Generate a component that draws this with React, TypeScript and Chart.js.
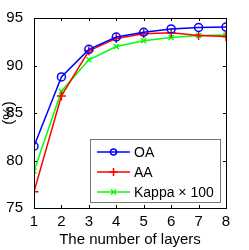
import React, { useEffect, useRef } from "react";
import { Chart, registerables } from "chart.js";

Chart.register(...registerables);

const layers = [1, 2, 3, 4, 5, 6, 7, 8];
const oa = [81.5, 88.8, 91.7, 93.0, 93.5, 93.85, 94.0, 94.05];
const aa = [76.7, 86.8, 91.55, 92.85, 93.35, 93.45, 93.15, 93.05];
const kappa = [78.9, 87.3, 90.6, 92.0, 92.6, 92.95, 93.15, 93.2];
const yTicks = [75, 80, 85, 90, 95];
const seriesLabels = ["OA", "AA", "Kappa \u00d7 100"];

const FONT = "'Liberation Sans', Arial, Helvetica, sans-serif";

const boxPlugin = {
  id: "matlabBox",
  afterDatasetsDraw(chart: any) {
    const { ctx, chartArea: a, scales } = chart;
    ctx.save();
    ctx.strokeStyle = "#000";
    ctx.lineWidth = 1;
    const tl = 3;
    ctx.beginPath();
    layers.forEach((v) => {
      const x = Math.round(scales.x.getPixelForValue(v)) + 0.5;
      ctx.moveTo(x, a.bottom);
      ctx.lineTo(x, a.bottom - tl);
      ctx.moveTo(x, a.top);
      ctx.lineTo(x, a.top + tl);
    });
    yTicks.forEach((v) => {
      const y = Math.round(scales.y.getPixelForValue(v)) + 0.5;
      ctx.moveTo(a.left, y);
      ctx.lineTo(a.left + tl, y);
      ctx.moveTo(a.right, y);
      ctx.lineTo(a.right - tl, y);
    });
    ctx.stroke();
    ctx.strokeRect(Math.round(a.left) + 0.5, Math.round(a.top) + 0.5, Math.round(a.right - a.left), Math.round(a.bottom - a.top));

    // legend
    ctx.font = `14px ${FONT}`;
    const tw = Math.max(...seriesLabels.map((s) => ctx.measureText(s).width));
    const padL = 7, lineLen = 33, gap = 4, padR = 6, rowH = 20;
    const w = Math.round(padL + lineLen + gap + tw + padR);
    const h = 63;
    const right = Math.round(a.right) - 6;
    const bottom = Math.round(a.bottom) - 6;
    const left = right - w;
    const top = bottom - h;
    ctx.fillStyle = "#fff";
    ctx.fillRect(left, top, w, h);
    ctx.strokeStyle = "#777";
    ctx.lineWidth = 1;
    ctx.strokeRect(left + 0.5, top + 0.5, w, h);
    chart.data.datasets.forEach((ds: any, i: number) => {
      const cy = top + 13 + i * rowH;
      const x0 = left + padL;
      ctx.strokeStyle = ds.borderColor;
      ctx.lineWidth = 1.5;
      ctx.beginPath();
      ctx.moveTo(x0, cy);
      ctx.lineTo(x0 + lineLen, cy);
      ctx.stroke();
      const cx = x0 + lineLen / 2;
      ctx.beginPath();
      if (ds.pointStyle === "circle") {
        ctx.arc(cx, cy, 3, 0, Math.PI * 2);
      } else if (ds.pointStyle === "cross") {
        ctx.moveTo(cx - 4, cy); ctx.lineTo(cx + 4, cy);
        ctx.moveTo(cx, cy - 4); ctx.lineTo(cx, cy + 4);
      } else {
        ctx.moveTo(cx - 2.5, cy - 2.5); ctx.lineTo(cx + 2.5, cy + 2.5);
        ctx.moveTo(cx - 2.5, cy + 2.5); ctx.lineTo(cx + 2.5, cy - 2.5);
      }
      ctx.stroke();
      ctx.fillStyle = "#000";
      ctx.textBaseline = "middle";
      ctx.textAlign = "left";
      ctx.fillText(ds.label, x0 + lineLen + gap, cy + 1);
    });
    ctx.restore();
  },
};

export default function App() {
  const ref = useRef<HTMLCanvasElement | null>(null);
  useEffect(() => {
    if (!ref.current) return;
    const mk = (label: string, vals: number[], color: string, style: string, r: number) => ({
      label,
      data: layers.map((x, i) => ({ x, y: vals[i] })),
      borderColor: color,
      backgroundColor: color,
      borderWidth: 1.5,
      pointStyle: style,
      pointRadius: r,
      pointBorderWidth: 1.5,
      pointBackgroundColor: "rgba(0,0,0,0)",
      pointBorderColor: color,
      tension: 0,
    });
    const chart = new Chart(ref.current, {
      type: "line",
      data: {
        datasets: [
          mk(seriesLabels[0], oa, "#0000ff", "circle", 4),
          mk(seriesLabels[1], aa, "#ff0000", "cross", 4.5),
          mk(seriesLabels[2], kappa, "#00ff00", "crossRot", 3.5),
        ],
      },
      options: {
        animation: false,
        responsive: false,
        layout: { padding: { top: 18, right: 23, left: 0, bottom: 0 } },
        plugins: { legend: { display: false }, tooltip: { enabled: false } },
        scales: {
          x: {
            type: "linear",
            min: 1,
            max: 8,
            grid: { display: false },
            border: { display: false },
            afterBuildTicks: (s: any) => { s.ticks = layers.map((v) => ({ value: v })); },
            ticks: { color: "#000", font: { family: FONT, size: 15 }, padding: -3, maxRotation: 0 },
            title: { display: true, text: "The number of layers", color: "#000", font: { family: FONT, size: 15 }, padding: { top: 0, bottom: 1 } },
            afterFit: (s: any) => { s.height = 42; },
          },
          y: {
            min: 75,
            max: 95,
            grid: { display: false },
            border: { display: false },
            afterBuildTicks: (s: any) => { s.ticks = yTicks.map((v) => ({ value: v })); },
            ticks: { color: "#000", font: { family: FONT, size: 15 }, padding: 3 },
            title: { display: true, text: "(%)", color: "#000", font: { family: FONT, size: 15 }, padding: 0 },
            afterFit: (s: any) => { s.width = 34; },
          },
        },
      } as any,
      plugins: [boxPlugin],
    });
    return () => chart.destroy();
  }, []);
  return (
    <div style={{ position: "fixed", left: 0, top: 0, width: 249, height: 250, background: "#fff" }}>
      <canvas ref={ref} width={249} height={250} />
    </div>
  );
}
